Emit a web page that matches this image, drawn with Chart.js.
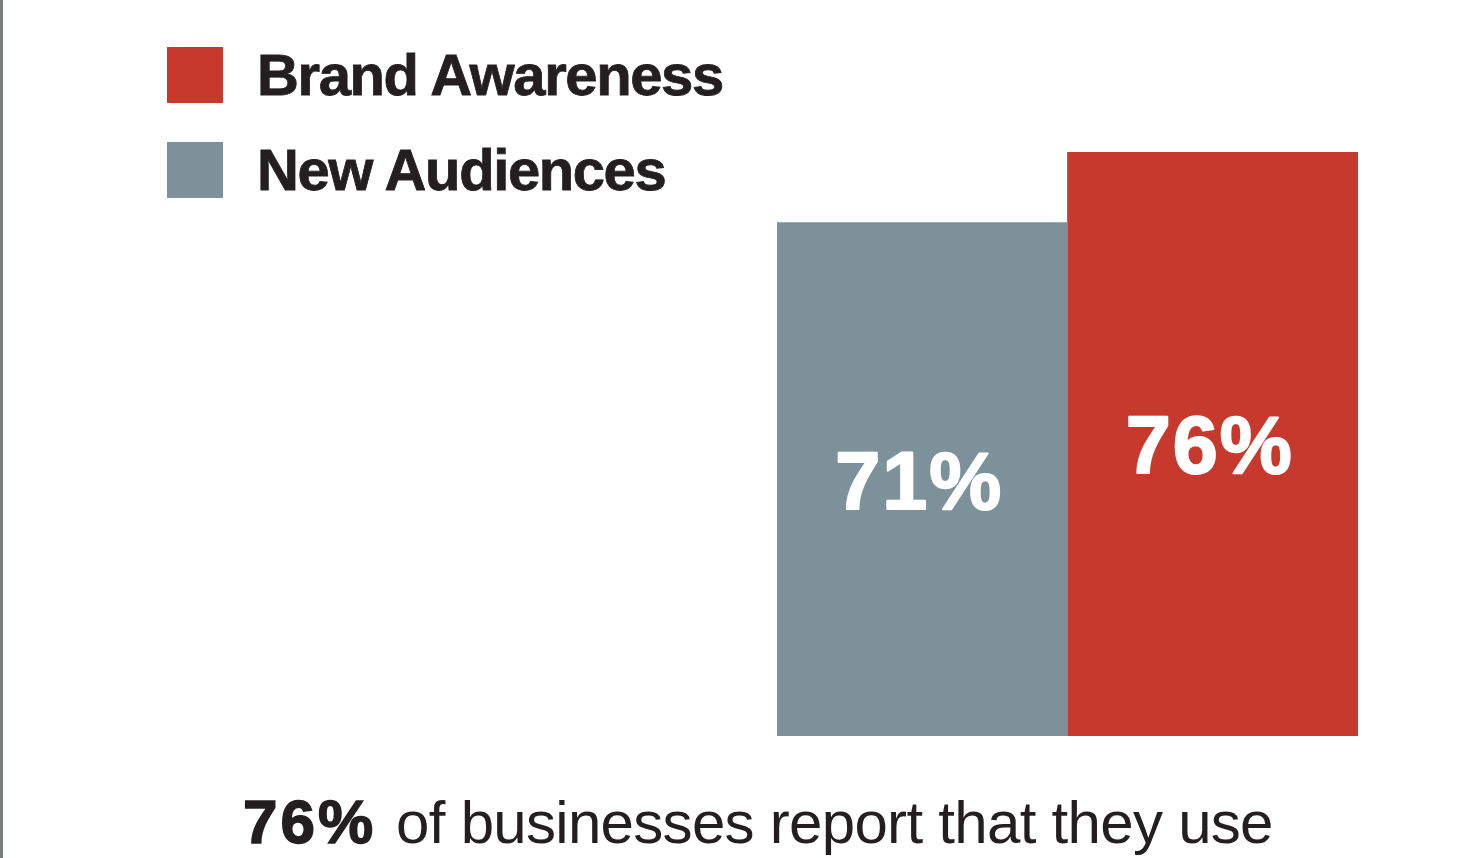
<!DOCTYPE html>
<html>
<head>
<meta charset="utf-8">
<script src="https://cdn.jsdelivr.net/npm/chart.js@4"></script>
<style>
  html, body { margin: 0; padding: 0; background: #fff; overflow: hidden; }
  #wrap { position: relative; width: 1469px; height: 858px; }
  #edge { position: absolute; left: 0; top: 0; width: 3px; height: 858px; background: #7a7d7d; }
  #legend { position: absolute; left: 167px; top: 47px; font-family: 'Liberation Sans', Arial, sans-serif; }
  .item { position: absolute; left: 0; height: 56px; white-space: nowrap; }
  .box { position: absolute; left: 0; top: 0; width: 56px; height: 56px; }
  .lbl { position: absolute; left: 90px; top: -1px; font-size: 58px; font-weight: bold; color: #231f20; letter-spacing: -1.4px; line-height: 58px; -webkit-text-stroke: 0.8px #231f20; }
  #caption { position: absolute; left: 243px; top: 792px; font-family: 'Liberation Sans', Arial, sans-serif; font-size: 60px; line-height: 60px; color: #231f20; letter-spacing: -0.7px; white-space: nowrap; }
  #caption b { font-size: 62px; letter-spacing: 3px; margin-right: 4px; -webkit-text-stroke: 1.5px #231f20; }
  canvas { position: absolute; left: 0; top: 0; }
</style>
</head>
<body>
<div id="wrap">
  <canvas id="chart" width="1469" height="858"></canvas>
  <div id="edge"></div>
  <div id="legend"></div>
  <div id="caption"><b>76%</b> of businesses report that they use</div>
</div>
<script>
// data
const categories = [''];
const seriesNames = ['New Audiences', 'Brand Awareness'];
const seriesValues = [[71], [76]];
const seriesColors = ['rgb(125, 145, 155)', 'rgb(200, 57, 45)'];
const legendOrder = ['Brand Awareness', 'New Audiences'];

// legend (html, real text)
const legend = document.getElementById('legend');
legendOrder.forEach((name, i) => {
  const idx = seriesNames.indexOf(name);
  const item = document.createElement('div');
  item.className = 'item';
  item.style.top = (i * 95) + 'px';
  const box = document.createElement('div');
  box.className = 'box';
  box.style.background = seriesColors[idx];
  const lbl = document.createElement('div');
  lbl.className = 'lbl';
  lbl.textContent = name;
  item.appendChild(box);
  item.appendChild(lbl);
  legend.appendChild(item);
});

// value labels inside the bars
const barLabels = {
  id: 'barLabels',
  afterDatasetsDraw(chart) {
    const ctx = chart.ctx;
    const bottom = chart.chartArea.bottom;
    ctx.save();
    ctx.fillStyle = '#ffffff';
    ctx.strokeStyle = '#ffffff';
    ctx.lineWidth = 2;
    ctx.lineJoin = 'round';
    ctx.font = 'bold 81px "Liberation Sans", Arial, sans-serif';
    if ('letterSpacing' in ctx) ctx.letterSpacing = '2px';
    ctx.textAlign = 'center';
    ctx.textBaseline = 'middle';
    chart.data.datasets.forEach((ds, i) => {
      const meta = chart.getDatasetMeta(i);
      meta.data.forEach((bar, j) => {
        const y = (bar.y + Math.min(bar.base, bottom)) / 2 + 7;
        const txt = ds.data[j] + '%';
        ctx.fillText(txt, bar.x - 3, y);
        ctx.strokeText(txt, bar.x - 3, y);
      });
    });
    ctx.restore();
  }
};

const ctx = document.getElementById('chart').getContext('2d');
new Chart(ctx, {
  type: 'bar',
  data: {
    labels: categories,
    datasets: seriesNames.map((name, i) => ({
      label: name,
      data: seriesValues[i],
      backgroundColor: seriesColors[i],
      borderWidth: 0,
      categoryPercentage: 1,
      barPercentage: 1
    }))
  },
  options: {
    responsive: false,
    animation: false,
    layout: { padding: { left: 777, right: 111, top: 152, bottom: 122 } },
    plugins: { legend: { display: false }, tooltip: { enabled: false } },
    scales: {
      x: { display: false },
      y: { display: false, min: 34.6, max: 76 }
    }
  },
  plugins: [barLabels]
});
</script>
</body>
</html>
